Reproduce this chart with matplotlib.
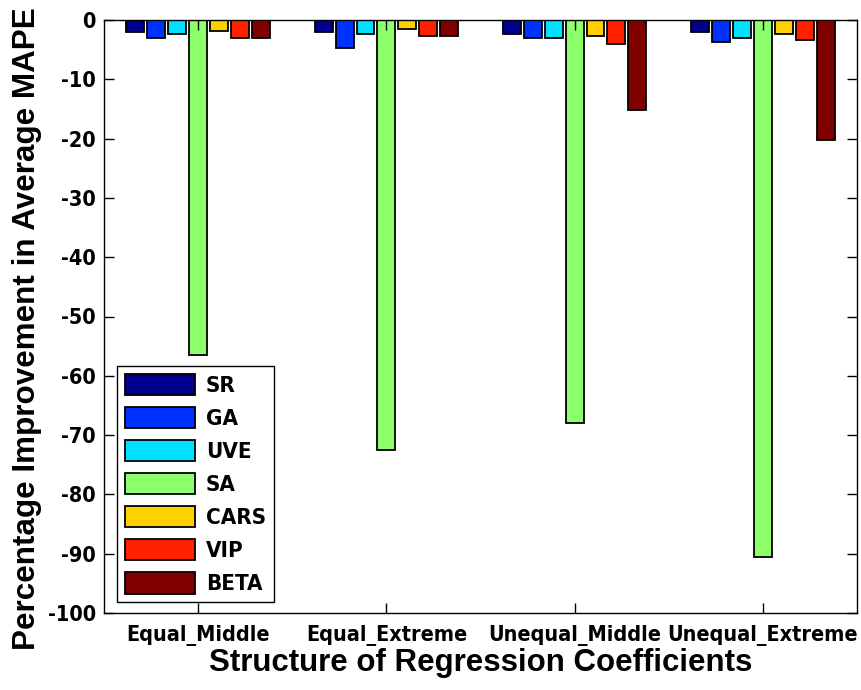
import numpy as np
import matplotlib.pyplot as plt

# MAPE improvement per selection method, one value per coefficient structure
structures = ['Equal_Middle', 'Equal_Extreme', 'Unequal_Middle', 'Unequal_Extreme']
methods = ['SR', 'GA', 'UVE', 'SA', 'CARS', 'VIP', 'BETA']
SR = [-2.1, -2.1, -2.4, -2.1]
GA = [-3.0, -4.8, -3.0, -3.7]
UVE = [-2.4, -2.4, -3.0, -3.0]
SA = [-56.5, -72.5, -68.0, -90.5]
CARS = [-1.8, -1.6, -2.7, -2.4]
VIP = [-3.0, -2.7, -4.1, -3.3]
BETA = [-3.0, -2.7, -15.1, -20.2]
series = [SR, GA, UVE, SA, CARS, VIP, BETA]

# jet-like colours, one per method
colors = ['#00008f', '#0032ff', '#00e0ff', '#8cff6a', '#ffd000', '#ff2000', '#800000']

plt.rcParams['axes.unicode_minus'] = False

fig = plt.figure(figsize=(8.61, 6.9), dpi=100)
ax = fig.add_axes([104 / 861, 1 - 613 / 690, (857 - 104) / 861, (613 - 20) / 690])

x = np.arange(1, len(structures) + 1)
slot = 0.111
width = 0.095
for i, (name, vals) in enumerate(zip(methods, series)):
    offs = (i - (len(methods) - 1) / 2) * slot
    ax.bar(x + offs, vals, width, color=colors[i], edgecolor='black',
           linewidth=1.3, label=name)

ax.set_xlim(0.5, 4.5)
ax.set_ylim(-100, 0)
ax.set_xticks(x)
ax.set_xticklabels(structures)
ax.set_yticks(np.arange(-100, 1, 10))

tick_font = dict(family='DejaVu Sans', stretch='condensed', weight='bold', size=15.5)
for lab in ax.get_xticklabels() + ax.get_yticklabels():
    lab.set_fontproperties(tick_font)

ax.tick_params(direction='in', length=7, width=1, top=True, right=True)
ax.tick_params(axis='x', pad=9)
ax.tick_params(axis='y', pad=6)
for s in ax.spines.values():
    s.set_linewidth(1)

ax.set_xlabel('Structure of Regression Coefficients', fontsize=22.5,
              fontweight='bold', family='Liberation Sans', labelpad=1)
ax.set_ylabel('Percentage Improvement in Average MAPE', fontsize=22.6,
              fontweight='bold', family='Liberation Sans')
ax.yaxis.set_label_coords(-0.083, 0.479)

leg = ax.legend(loc='lower left', bbox_to_anchor=(0.0173, 0.0185),
                prop=dict(family='DejaVu Sans', stretch='condensed', weight='bold', size=16),
                fancybox=False, edgecolor='black', framealpha=1,
                handlelength=3.15, handleheight=1.12, labelspacing=0.48,
                borderpad=0.35, handletextpad=0.5, borderaxespad=0)
leg.get_frame().set_linewidth(1)

fig.savefig('out.png', dpi=100)
